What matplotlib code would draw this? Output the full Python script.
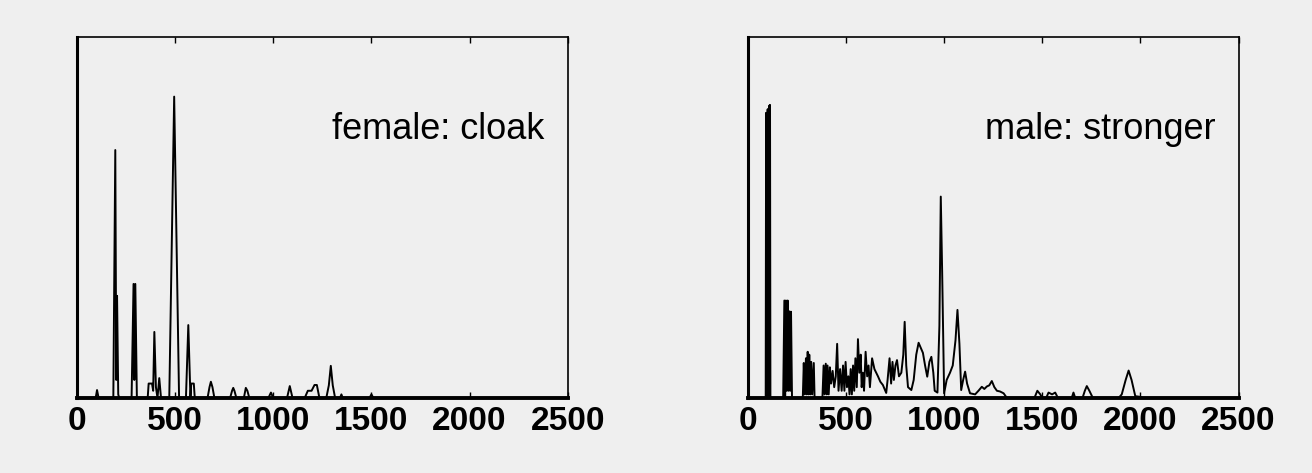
import matplotlib
matplotlib.use('Agg')
import matplotlib.pyplot as plt

plt.rcParams['font.family'] = ['Liberation Sans', 'DejaVu Sans']

# spectrum values (frequency in Hz, relative amplitude)
female_freq = [0, 95, 102, 110,
               185, 195, 200, 204, 210, 215,
               278, 288, 292, 297, 305,
               360, 365, 382, 388, 394, 402, 410, 419, 428,
               470, 495, 520,
               555, 567, 578, 582, 595, 600,
               665, 675, 682, 690, 700,
               780, 790, 796, 802, 812,
               850, 860, 868, 878,
               975, 988, 1000,
               1070, 1084, 1098,
               1160, 1176, 1195, 1210, 1222, 1235,
               1270, 1283, 1293, 1303, 1315,
               1340, 1347, 1354,
               1490, 1500, 1510,
               2500]
female_amp = [0, 0, 0.022, 0,
              0, 0.687, 0.05, 0.283, 0.01, 0,
              0, 0.316, 0.05, 0.316, 0,
              0, 0.04, 0.04, 0.02, 0.183, 0.03, 0, 0.055, 0,
              0, 0.835, 0,
              0, 0.202, 0, 0.04, 0.04, 0,
              0, 0.03, 0.045, 0.03, 0,
              0, 0.02, 0.028, 0.02, 0,
              0, 0.028, 0.02, 0,
              0, 0.015, 0,
              0, 0.033, 0,
              0, 0.02, 0.02, 0.036, 0.036, 0,
              0, 0.035, 0.089, 0.035, 0,
              0, 0.01, 0,
              0, 0.01, 0,
              0]

male_freq = [0, 91, 93, 95, 97, 99, 101, 103, 105, 107, 109, 111, 113, 115,
             180, 186, 190, 194, 198, 203, 207, 212, 216, 220, 225,
             280, 285, 290, 296, 300, 305, 309, 313, 318, 323, 328, 336, 340,
             380, 386, 391, 397, 402, 406, 412, 418, 424, 432, 440, 448, 455,
             462, 470, 478, 485, 492, 498, 505, 512, 518, 524, 530, 536, 542,
             548, 555, 561, 568, 575, 580, 586, 592, 600, 608, 615, 622, 633,
             645, 663, 675, 688, 705, 712, 722, 730, 737, 744, 752, 760, 770,
             782, 792, 799, 807, 816, 833, 845, 858, 870, 880, 892, 903, 914,
             925, 935, 945, 952, 966, 976, 983, 990, 1000, 1013, 1030, 1044,
             1058, 1068, 1078, 1087, 1097, 1107, 1117, 1132, 1158, 1175, 1192,
             1205, 1218, 1230, 1243, 1256, 1269, 1285, 1303, 1320,
             1460, 1475, 1490, 1500, 1520, 1532, 1550, 1566, 1580,
             1650, 1659, 1668, 1705, 1717, 1727, 1740, 1758,
             1889, 1905, 1925, 1940, 1955, 1974, 2000, 2010, 2500]
male_amp = [0, 0, 0.79, 0, 0.79, 0, 0.80, 0, 0.80, 0, 0.81, 0, 0.812, 0,
            0, 0.27, 0, 0.27, 0.02, 0.27, 0.02, 0.24, 0.02, 0.239, 0,
            0, 0.097, 0.01, 0.11, 0.01, 0.128, 0.01, 0.12, 0.01, 0.1, 0.01, 0.097, 0,
            0, 0.09, 0.01, 0.095, 0.01, 0.09, 0.01, 0.085, 0.04, 0.075, 0.03, 0.06, 0.15,
            0.02, 0.08, 0.02, 0.09, 0.02, 0.1, 0.03, 0.06, 0.01, 0.08, 0.01, 0.09, 0.02,
            0.11, 0.03, 0.163, 0.07, 0.12, 0.03, 0.07, 0.02, 0.128, 0.06, 0.09, 0.03, 0.11,
            0.08, 0.06, 0.045, 0.036, 0.014, 0.05, 0.11, 0.04, 0.1, 0.05, 0.09, 0.105, 0.06,
            0.07, 0.12, 0.211, 0.09, 0.03, 0.022, 0.05, 0.12, 0.153, 0.14, 0.125, 0.09, 0.059,
            0.1, 0.114, 0.07, 0.02, 0.015, 0.2, 0.558, 0.35, 0.013, 0.05, 0.07, 0.09,
            0.16, 0.244, 0.15, 0.022, 0.05, 0.073, 0.04, 0.013, 0.01, 0.02, 0.031,
            0.025, 0.032, 0.035, 0.047, 0.03, 0.02, 0.018, 0.013, 0,
            0, 0.02, 0.01, 0, 0, 0.015, 0.01, 0.015, 0,
            0, 0.015, 0, 0, 0.02, 0.033, 0.02, 0,
            0, 0.01, 0.05, 0.076, 0.05, 0.005, 0.003, 0, 0]

panels = [("female: cloak", female_freq, female_amp),
          ("male: stronger", male_freq, male_amp)]
xticks = [0, 500, 1000, 1500, 2000, 2500]

bg = '#efefef'
fig = plt.figure(figsize=(13.12, 4.73), dpi=100, facecolor=bg)
lefts = [0.0587, 0.570]

for left, (label, freq, amp) in zip(lefts, panels):
    ax = fig.add_axes([left, 0.1586, 0.374, 0.763], facecolor=bg)
    ax.plot(freq, amp, color='black', lw=1.4)
    ax.set_xlim(0, 2500)
    ax.set_ylim(0, 1)
    ax.set_yticks([])
    ax.set_xticks(xticks)
    ax.set_xticklabels([str(t) for t in xticks], fontsize=24, fontweight='bold')
    ax.tick_params(axis='x', direction='in', length=4, width=1, top=True, pad=6)
    ax.spines['bottom'].set_linewidth(2.8)
    ax.spines['left'].set_linewidth(2.2)
    ax.spines['top'].set_linewidth(1.2)
    ax.spines['right'].set_linewidth(1.2)
    ax.text(0.953, 0.745, label, transform=ax.transAxes, ha='right', va='center',
            fontsize=26)

plt.savefig("out.png", dpi=100, facecolor=bg)
